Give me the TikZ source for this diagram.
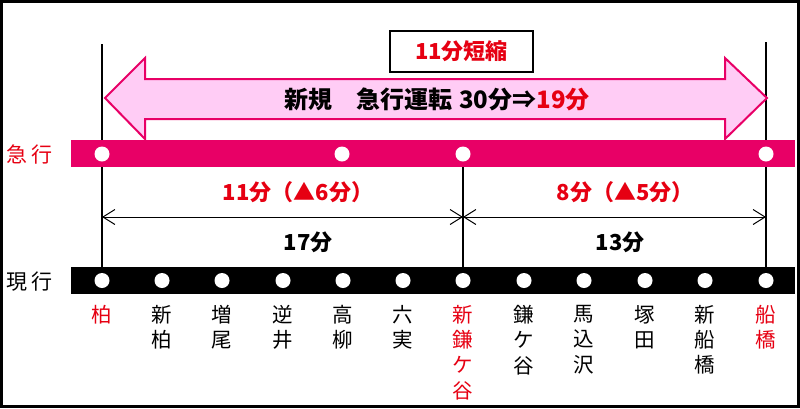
\documentclass[tikz,border=0pt]{standalone}
\usepackage{fontspec}
\setmainfont{Noto Sans CJK JP}
\usetikzlibrary{arrows.meta}
\definecolor{kpink}{RGB}{232,0,102}
\definecolor{lpink}{RGB}{255,204,245}
\definecolor{kred}{RGB}{230,0,18}
\tikzset{
  band/.style={inner sep=0pt, minimum width=724pt, minimum height=27pt, anchor=north west},
  stn/.style={circle, fill=white, inner sep=0pt, minimum size=15pt},
  sname/.style={anchor=north, inner sep=0pt, align=center, font=\fontsize{20.5}{25.3}\selectfont},
  dimline/.style={line width=1pt, {Straight Barb[length=12pt,width=15pt]}-{Straight Barb[length=12pt,width=15pt]}},
  vline/.style={line width=1.2pt},
  bigfont/.style={font=\fontsize{24}{24}\selectfont\bfseries},
  midfont/.style={font=\fontsize{22}{22}\selectfont\bfseries},
  sidefont/.style={font=\fontsize{21}{21}\selectfont}
}
\begin{document}
\begin{tikzpicture}[x=1pt,y=-1pt]
\useasboundingbox (0,0) rectangle (800,408);
\draw[line width=3pt] (1.5,1.5) rectangle (798.5,406.5);

% vertical lines
\coordinate (tl) at (102,44);
\coordinate (bl) at (102,280);
\coordinate (tr) at (766,42);
\coordinate (br) at (766,280);
\coordinate (tm) at (463,154);
\coordinate (bm) at (463,280);
\draw[vline] (tl) -- (bl);
\draw[vline] (tr) -- (br);
\draw[vline] (tm) -- (bm);

% big arrow
\draw[fill=lpink, draw=kpink, line width=2pt, line join=miter]
  (105,98) -- (145,58) -- (145,79) -- (725,79) -- (725,58) -- (767,98)
  -- (725,139) -- (725,119) -- (145,119) -- (145,139) -- cycle;
\node[bigfont] (arrtext) at (437,99) {新規　急行運転\hspace{0.3em}30分⇒\textcolor{kred}{19分}};

% box
\node[draw, line width=1.2pt, minimum width=143pt, minimum height=41pt, inner sep=0pt,
      midfont, text=kred] (box) at (461.5,51.5) {11分短縮};

% bands
\node[band, fill=kpink] (expband) at (71,140) {};
\node[band, fill=black] (curband) at (71,267) {};

% express stations
\foreach \x/\n in {102/1, 342/2, 463/3, 766/4}
  \node[stn] (e\n) at (\x,154) {};

% current stations
\foreach \x/\n in {102/1,162/2,222/3,283/4,343/5,403/6,463/7,524/8,584/9,645/10,705/11,766/12}
  \node[stn] (c\n) at (\x,280.5) {};

% side labels
\node[sidefont, text=kred] (lexp) at (29.5,155) {急\hspace{5pt}行};
\node[sidefont] (lcur) at (29.5,282) {現\hspace{5pt}行};

% dimension arrows
\coordinate (dl) at (102,217);
\coordinate (dm) at (463,217);
\coordinate (dr) at (766,217);
\draw[dimline] (dl) -- (dm);
\draw[dimline] (dm) -- (dr);
\node[midfont, text=kred] (t1) at (298,192) {11分（▲6分）};
\node[midfont, text=kred] (t2) at (625,192) {8分（▲5分）};
\node[midfont] (t3) at (308,242) {17分};
\node[midfont] (t4) at (620,242) {13分};

% station names
\node[sname, text=kred] (s1) at (102,305) {柏};
\node[sname] (s2) at (162,305) {新\\柏};
\node[sname] (s3) at (222,305) {増\\尾};
\node[sname] (s4) at (283,305) {逆\\井};
\node[sname] (s5) at (343,305) {高\\柳};
\node[sname] (s6) at (403,305) {六\\実};
\node[sname, text=kred] (s7) at (463,305) {新\\鎌\\ケ\\谷};
\node[sname] (s8) at (524,305) {鎌\\ケ\\谷};
\node[sname] (s9) at (584,305) {馬\\込\\沢};
\node[sname] (s10) at (645,305) {塚\\田};
\node[sname] (s11) at (705,305) {新\\船\\橋};
\node[sname, text=kred] (s12) at (766,305) {船\\橋};
\end{tikzpicture}
\end{document}
